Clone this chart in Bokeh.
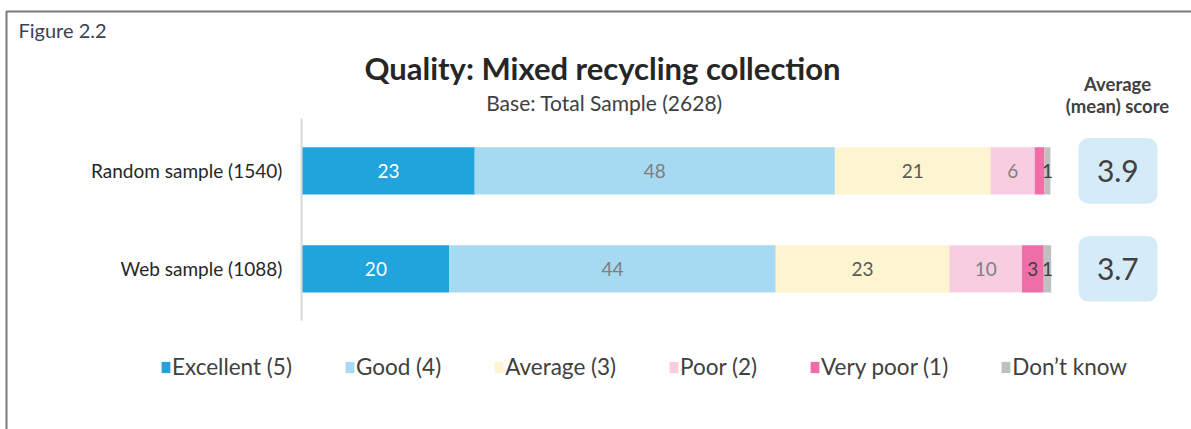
from bokeh.plotting import figure
from bokeh.models import (Range1d, Label, Legend, LegendItem,
                          BoxAnnotation, ColumnDataSource)
from bokeh.embed import file_html
from bokeh.resources import INLINE
from bokeh.core.properties import value

# ---------------- data ----------------
groups = ["Random sample (1540)", "Web sample (1088)"]
group_pos = [2, 1]
categories = ["Excellent (5)", "Good (4)", "Average (3)", "Poor (2)",
              "Very poor (1)", "Don\u2019t know"]
random_vals = [23.0, 48.1, 20.8, 5.9, 1.3, 0.8]
web_vals = [19.6, 43.6, 23.2, 9.7, 2.9, 1.0]
random_labels = ["23", "48", "21", "6", "", "1"]
web_labels = ["20", "44", "23", "10", "3", "1"]
mean_scores = ["3.9", "3.7"]

colors = ["#21a3db", "#a6d9f2", "#fcf5d0", "#f9cde1", "#f06ea7", "#c0c0c0"]
label_colors = ["#ffffff", "#7f7f7f", "#595959", "#7f7f7f", "#404040", "#404040"]

FONT = "Lato"
TXT = "#404040"

W, H = 1191, 429
p = figure(width=W, height=H, x_range=Range1d(-40.34, 118.74),
           y_range=Range1d(-0.640, 3.738), output_backend="svg",
           toolbar_location=None, title=None,
           min_border_left=0, min_border_right=0,
           min_border_top=0, min_border_bottom=0)
p.xaxis.visible = False
p.yaxis.visible = False
p.grid.visible = False
p.outline_line_color = None
p.background_fill_color = "white"
p.border_fill_color = "white"

# category axis: vertical base line and category labels
p.segment(x0=[-0.13], y0=[0.471], x1=[-0.13], y1=[2.534],
          line_color="#d9d9d9", line_width=2)
p.text(x=[-2.7] * len(groups), y=group_pos, text=groups, text_align="right",
       text_baseline="middle", text_font=value(FONT), text_font_size="19px",
       text_color="#262626")

# ---------------- stacked bars ----------------
series = [random_vals, web_vals]
labels = [random_labels, web_labels]
left = [0.0, 0.0]
legend_items = []
for i, cat in enumerate(categories):
    vals = [s[i] for s in series]
    right = [l + v for l, v in zip(left, vals)]
    src = ColumnDataSource(dict(
        y=group_pos, left=left, right=right,
        cx=[(l + r) / 2 for l, r in zip(left, right)],
        lab=[lb[i] for lb in labels],
    ))
    r = p.hbar(y="y", left="left", right="right", height=0.483, source=src,
               fill_color=colors[i], line_color=None)
    p.text(x="cx", y="y", text="lab", source=src, text_align="center",
           text_baseline="middle", text_font=value(FONT),
           text_font_size="19px", text_color=label_colors[i])
    legend_items.append(LegendItem(label=cat, renderers=[r]))
    left = right

# ---------------- mean score boxes ----------------
score_src = ColumnDataSource(dict(y=group_pos, s=mean_scores,
                                  x=[108.9] * len(group_pos)))
p.hbar(y="y", left=103.65, right=114.2, height=0.67, source=score_src,
       fill_color="#d5ebf7", line_color=None, border_radius=10)
p.text(x="x", y="y", text="s", source=score_src, text_align="center",
       text_baseline="middle", text_font=value(FONT), text_font_size="30px",
       text_color=TXT)

# ---------------- titles (screen px; y given from the top) ----------
def label(text, x, y, size, bold=False, align="left", color=TXT):
    p.add_layout(Label(x=x, y=H - y, x_units="screen", y_units="screen",
                       text=text, text_font=FONT, text_font_size=size,
                       text_font_style="bold" if bold else "normal",
                       text_align=align, text_baseline="middle",
                       text_color=color))

label("Quality: Mixed recycling collection", 602, 67.5, "31px", bold=True,
      align="center", color="#262626")
label("Base: Total Sample (2628)", 604, 102, "21px", align="center")
label("Figure 2.2", 18, 29.7, "20px", color="#404050")
label("Average", 1117, 83.5, "18.5px", bold=True, align="center")
label("(mean) score", 1117, 105, "18.5px", bold=True, align="center")

# outer border
p.add_layout(BoxAnnotation(left=6, right=3000, top=H - 11, bottom=-3000,
                           left_units="screen", right_units="screen",
                           top_units="screen", bottom_units="screen",
                           fill_color=None, fill_alpha=0,
                           line_color="#7a7a7a", line_alpha=1.0,
                           line_width=2))

# ---------------- legend ----------------
legend = Legend(items=legend_items, orientation="horizontal",
                location=(160, H - 380), glyph_width=11, glyph_height=14,
                label_standoff=1, spacing=52, padding=0, margin=0,
                border_line_color=None, background_fill_alpha=0,
                label_text_font=FONT, label_text_font_size="22.5px",
                label_text_color=TXT)
p.add_layout(legend, "center")

open("out.html", "w").write(file_html(p, INLINE))
